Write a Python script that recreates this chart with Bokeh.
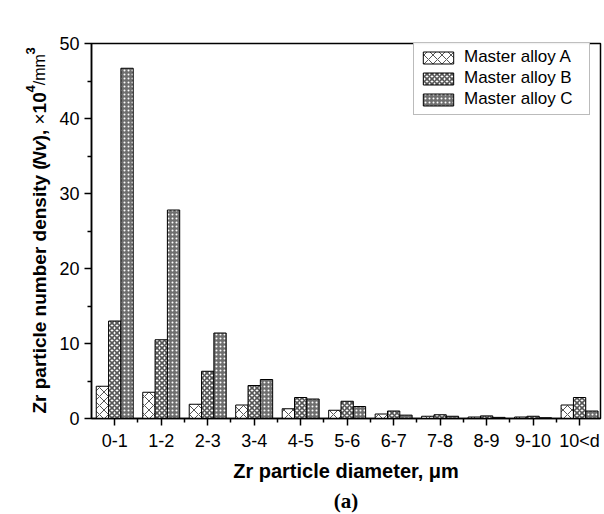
import math
from bokeh.plotting import figure
from bokeh.models import Range1d, FixedTicker, Legend, LegendItem, Title, ColumnDataSource
from bokeh.layouts import row
from bokeh.core.properties import value
from bokeh.embed import file_html
from bokeh.resources import INLINE

# ---- data ----
categories = ["0-1", "1-2", "2-3", "3-4", "4-5", "5-6", "6-7", "7-8", "8-9", "9-10", "10<d"]
alloy_a = [4.3, 3.5, 1.9, 1.8, 1.3, 1.1, 0.6, 0.3, 0.2, 0.2, 1.8]
alloy_b = [13.0, 10.5, 6.3, 4.4, 2.8, 2.3, 1.0, 0.5, 0.35, 0.3, 2.8]
alloy_c = [46.7, 27.8, 11.4, 5.2, 2.6, 1.6, 0.45, 0.3, 0.15, 0.1, 1.0]
series_names = ["Master alloy A", "Master alloy B", "Master alloy C"]
y_ticks = [0, 10, 20, 30, 40, 50]
y_minor = [5, 15, 25, 35, 45]

# ---- layout ----
W, H = 604, 514
TW = 54                      # width of the strip holding the y-axis title
FL, FR, FT, FB = 91 - TW, 4, 43, 93
YMAX = 50
frame_h = H - FT - FB
ppu = frame_h / YMAX

p = figure(width=W - TW, height=H, output_backend="svg", toolbar_location=None,
           x_range=Range1d(-0.5, 10.45), y_range=Range1d(0, YMAX),
           min_border_left=FL, min_border_right=FR, min_border_top=FT, min_border_bottom=FB)
p.background_fill_color = "white"
p.border_fill_color = "white"
p.grid.visible = False
p.outline_line_color = "black"
p.outline_line_width = 1.5

idx = list(range(len(categories)))
bw = 0.265
styles = [
    dict(fill_color="white", hatch_pattern="diagonal_cross", hatch_color="#555555", hatch_scale=9, hatch_weight=1.0),
    dict(fill_color="white", hatch_pattern="diagonal_cross", hatch_color="#555555", hatch_scale=5, hatch_weight=1.6),
    dict(fill_color="#6e6e6e", hatch_pattern="dot", hatch_color="white", hatch_scale=4, hatch_weight=1.5),
]
renderers = []
for k, vals in enumerate([alloy_a, alloy_b, alloy_c]):
    xs = [i + (k - 1) * bw for i in idx]
    r = p.vbar(x=xs, top=vals, width=bw, bottom=0, line_color="black", line_width=1, **styles[k])
    renderers.append(r)

legend = Legend(items=[LegendItem(label=series_names[k], renderers=[renderers[k]]) for k in range(3)],
                location=(322, 303))
legend.border_line_color = "#777777"
legend.border_line_width = 1
legend.background_fill_color = "white"
legend.label_text_font = "Liberation Sans"
legend.label_text_font_size = "17px"
legend.label_text_color = "black"
legend.glyph_width = 38
legend.glyph_height = 15
legend.label_height = 18
legend.label_width = 120
legend.label_standoff = 7
legend.spacing = 1
legend.padding = 5
legend.margin = 0
p.add_layout(legend)

# axes
xa = p.xaxis[0]
xa.ticker = FixedTicker(ticks=idx, minor_ticks=[i + 0.5 for i in idx[:-1]])
xa.major_label_overrides = {i: c for i, c in zip(idx, categories)}
ya = p.yaxis[0]
ya.ticker = FixedTicker(ticks=y_ticks, minor_ticks=y_minor)
for ax in (xa, ya):
    ax.axis_line_color = "black"
    ax.axis_line_width = 1.5
    ax.major_tick_line_color = "black"
    ax.major_tick_line_width = 1.5
    ax.minor_tick_line_color = "black"
    ax.minor_tick_line_width = 1.5
    ax.major_tick_in = 0
    ax.major_tick_out = 7
    ax.minor_tick_in = 0
    ax.minor_tick_out = 4
    ax.major_label_text_font = "Liberation Sans"
    ax.major_label_text_font_size = "18px"
    ax.major_label_text_color = "black"
    ax.major_label_standoff = 5

xa.axis_label = "Zr particle diameter, \u03bcm"
xa.axis_label_text_font = "Liberation Sans"
xa.axis_label_text_font_style = "bold"
xa.axis_label_text_font_size = "20px"
xa.axis_label_text_color = "black"
xa.axis_label_standoff = 6

p.add_layout(Title(text="(a)", align="center", text_font="Liberation Serif", text_font_style="bold",
                   text_font_size="21px", text_color="black", standoff=4), "below")

# ---- y-axis title strip (mixed styles, rotated) ----
bold_w = {"Z": 611, "r": 389, " ": 278, "p": 611, "a": 556, "t": 333, "i": 278, "c": 556, "l": 278,
          "e": 556, "n": 611, "u": 611, "m": 889, "b": 611, "d": 611, "s": 556, "y": 556, "(": 333,
          ")": 333, "N": 722, "v": 556, ",": 278, "0": 556, "1": 556, "3": 556, "4": 556, "\u00d7": 584}
reg_w = {"/": 278, "m": 833, "\u00d7": 584, " ": 278}

def width(txt, size, bold=True):
    tbl = bold_w if bold else reg_w
    return sum(tbl.get(ch, 556) for ch in txt) * size / 1000.0

FS = 19
pieces = [
    ("Zr particle number density (", "bold", FS, 0),
    ("Nv", "bold italic", FS, 0),
    ("), ", "bold", FS, 0),
    ("\u00d7", "normal", FS, 0),
    ("10", "bold", FS, 0),
    ("4", "bold", 13, -9),
    ("/mm", "normal", 16, 0),
    ("3", "bold", 13, -9),
]
base_x = 39
pos_px = 416   # canvas y (from top) where the title starts
cols = dict(text=[], x=[], y=[], style=[], size=[])
for txt, style, size, shift in pieces:
    cols["text"].append(txt)
    cols["x"].append(base_x + shift)
    cols["y"].append((H - FB - pos_px) / ppu)
    cols["style"].append(style)
    cols["size"].append(f"{size}px")
    pos_px -= width(txt, size, bold=(style != "normal"))

# the strip's frame is aligned with the main frame, so use the same vertical mapping
t = figure(width=TW, height=H, output_backend="svg", toolbar_location=None,
           x_range=Range1d(0, TW), y_range=Range1d(0, YMAX),
           min_border_left=0, min_border_right=0, min_border_top=FT, min_border_bottom=FB)
t.axis.visible = False
t.grid.visible = False
t.outline_line_color = None
t.background_fill_color = "white"
t.border_fill_color = "white"
t.text(x="x", y="y", text="text", source=ColumnDataSource(cols), angle=math.pi / 2,
       text_font=value("Liberation Sans"), text_font_style="style", text_font_size="size",
       text_align="left", text_baseline="alphabetic", text_color="black")

layout = row(t, p, spacing=0)
open("out.html", "w").write(file_html(layout, INLINE))
